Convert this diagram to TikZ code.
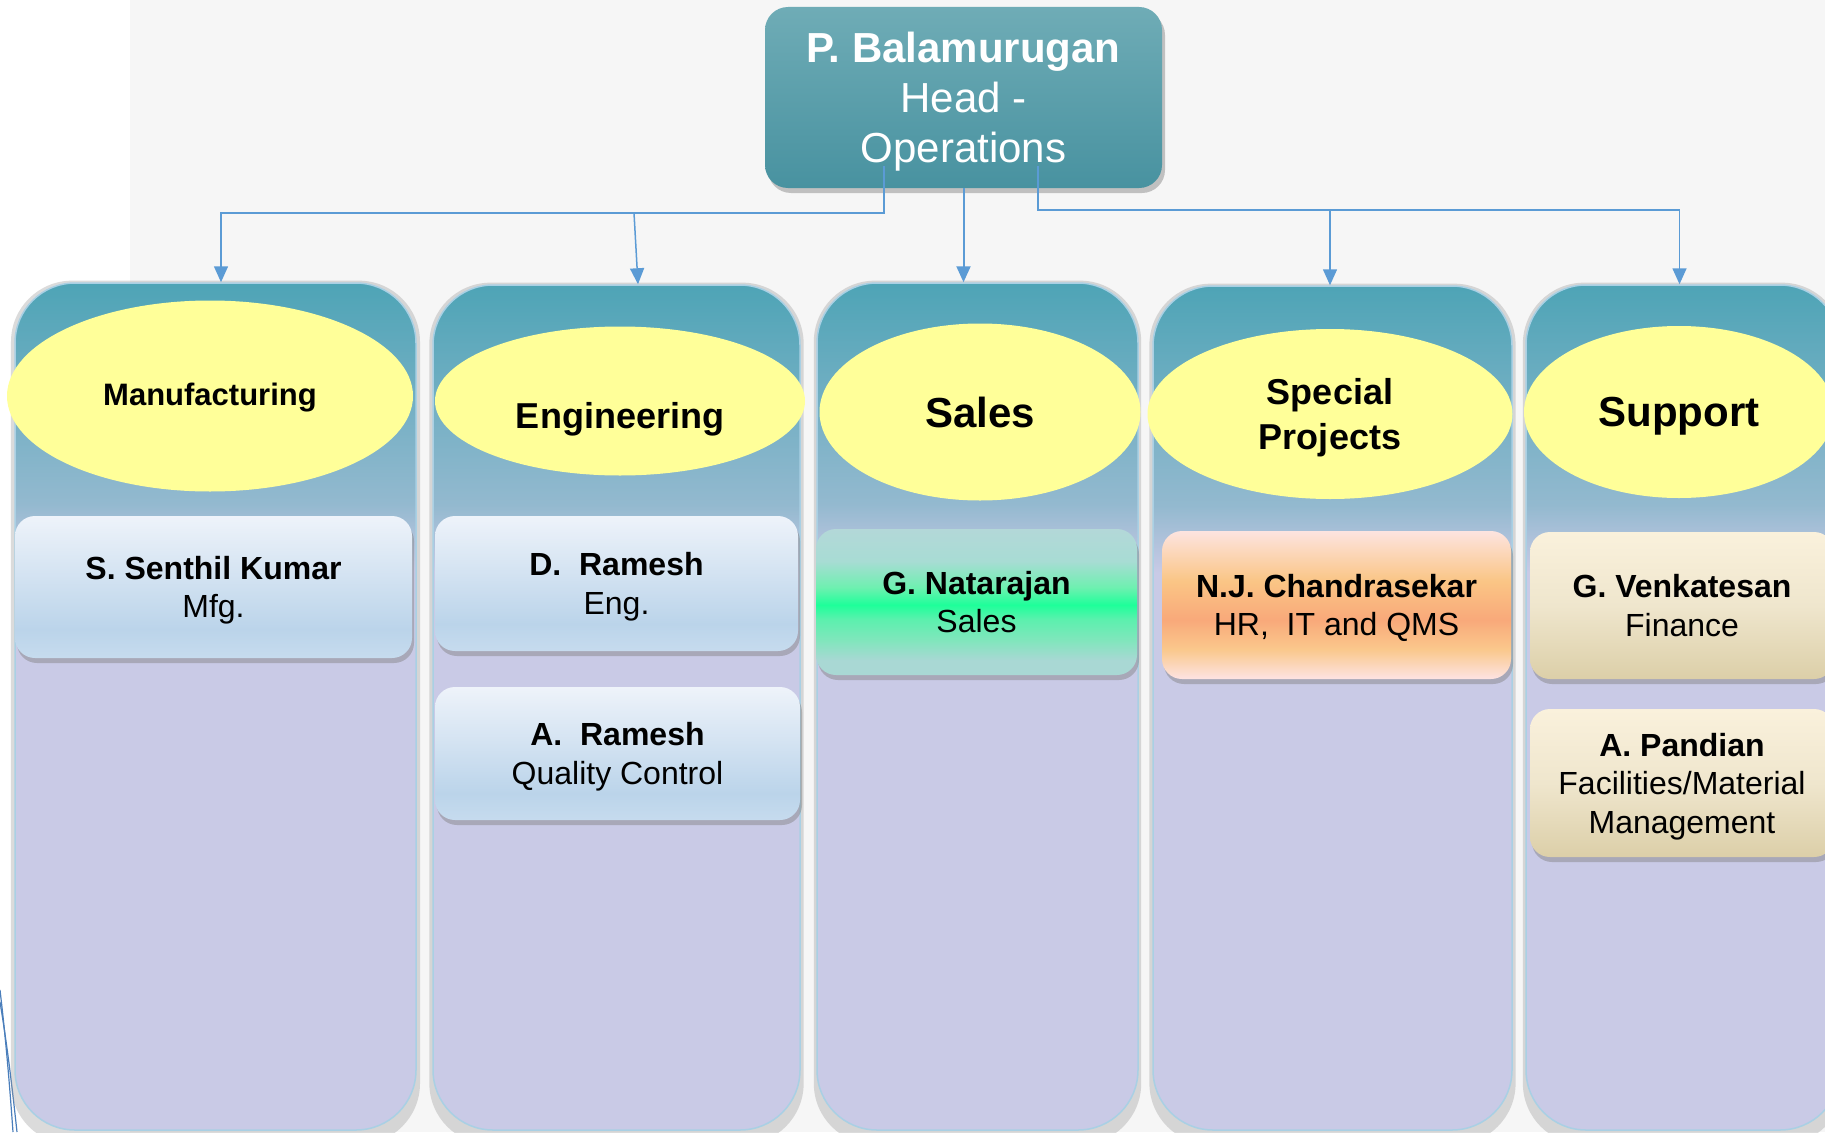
\documentclass[tikz,border=0pt]{standalone}
\usepackage{fontspec}
\setmainfont{Liberation Sans}
\usetikzlibrary{shapes.geometric}
\usetikzlibrary{arrows.meta}
\usetikzlibrary{shadows}

\definecolor{linkblue}{HTML}{5B9BD5}
\definecolor{decoblue}{HTML}{4A7EBB}
\definecolor{backdrop}{HTML}{F6F6F6}
\definecolor{headtop}{HTML}{6FACB6}
\definecolor{headbot}{HTML}{4892A0}
\definecolor{colteal}{HTML}{4EA4B6}
\definecolor{colmid}{HTML}{93B9CF}
\definecolor{collav}{HTML}{C9CAE6}
\definecolor{coledge}{HTML}{A9D0E4}
\definecolor{deptyellow}{HTML}{FFFF99}
\definecolor{bluetop}{HTML}{EEF3FA}
\definecolor{bluemid}{HTML}{BBD4EA}
\definecolor{bluebot}{HTML}{C6DBEE}
\definecolor{greentop}{HTML}{B3D8D8}
\definecolor{greenupper}{HTML}{A8DCD4}
\definecolor{greenhigh}{HTML}{6EF0B0}
\definecolor{greenmid}{HTML}{1EFF9A}
\definecolor{greenlow}{HTML}{5CF0AE}
\definecolor{greenlower}{HTML}{80E6BC}
\definecolor{greenbot}{HTML}{A9D8D4}
\definecolor{ortop}{HTML}{FDE4E0}
\definecolor{orhigh}{HTML}{FAC585}
\definecolor{ormid}{HTML}{F9A97A}
\definecolor{orlow}{HTML}{FAC88C}
\definecolor{orbot}{HTML}{FDE3E3}
\definecolor{creamtop}{HTML}{FAF1DC}
\definecolor{creammid}{HTML}{EFE6CD}
\definecolor{creambot}{HTML}{DCCFA8}

\pgfdeclareverticalshading{colshade}{100bp}{color(0bp)=(collav); color(25bp)=(collav); color(58bp)=(collav); color(62bp)=(colmid); color(75bp)=(colteal); color(100bp)=(colteal)}
\pgfdeclareverticalshading{blueshade}{100bp}{color(0bp)=(bluebot); color(25bp)=(bluebot); color(35bp)=(bluemid); color(75bp)=(bluetop); color(100bp)=(bluetop)}
\pgfdeclareverticalshading{greenshade}{100bp}{color(0bp)=(greenbot); color(25bp)=(greenbot); color(30bp)=(greenbot); color(37bp)=(greenlower); color(44bp)=(greenlow); color(49bp)=(greenmid); color(55bp)=(greenhigh); color(64bp)=(greenupper); color(75bp)=(greentop); color(100bp)=(greentop)}
\pgfdeclareverticalshading{orangeshade}{100bp}{color(0bp)=(orbot); color(25bp)=(orbot); color(35bp)=(orlow); color(45bp)=(ormid); color(58bp)=(orhigh); color(75bp)=(ortop); color(100bp)=(ortop)}
\pgfdeclareverticalshading{creamshade}{100bp}{color(0bp)=(creambot); color(25bp)=(creambot); color(50bp)=(creammid); color(75bp)=(creamtop); color(100bp)=(creamtop)}

\tikzstyle{column} = [rectangle, rounded corners=60pt, draw=coledge, line width=1.5pt, shading=colshade, drop shadow={shadow xshift=0pt, shadow yshift=-6pt, shadow scale=1.02, fill=black!40, opacity=0.35}]
\tikzstyle{dept} = [ellipse, fill=deptyellow, inner sep=0pt, align=center, text depth=0pt]
\tikzstyle{person} = [rectangle, rounded corners=20pt, inner sep=0pt, align=center, text depth=0pt, font={\fontsize{32}{38.5}\selectfont}, drop shadow={shadow xshift=2pt, shadow yshift=-5pt, opacity=0.45}]
\tikzstyle{bluebox} = [person, shading=blueshade]
\tikzstyle{greenbox} = [person, shading=greenshade]
\tikzstyle{orangebox} = [person, shading=orangeshade]
\tikzstyle{creambox} = [person, shading=creamshade]
\tikzstyle{headbox} = [rectangle, rounded corners=23pt, top color=headtop, bottom color=headbot, text=white, align=center, text depth=0pt, font={\fontsize{42}{50}\selectfont}, drop shadow={shadow xshift=3pt, shadow yshift=-5pt, opacity=0.45}]
\tikzstyle{link} = [draw=linkblue, line width=1.5pt]
\tikzstyle{arrow} = [link, -{Triangle[width=14pt,length=16pt]}]
\newcommand{\deptfont}[1]{\bfseries\fontsize{#1}{45}\selectfont}

\begin{document}
\begin{tikzpicture}[x=1pt, y=-1pt]
  \useasboundingbox (0,0) rectangle (1825,1132);

  % Backdrop
  \fill [white] (0,0) rectangle (1825,1132);
  \fill [backdrop] (130,0) rectangle (1825,1132);

  \draw [decoblue, line width=1.2pt] (0,990) .. controls (6,1040) and (10,1090) .. (13,1132);
  \draw [decoblue, line width=1.2pt] (0,1002) .. controls (8,1050) and (13,1095) .. (17,1132);

  % Columns
  \node [column, minimum width=401pt, minimum height=847pt] (colMfg)   at (215.5,706.5) {};
  \node [column, minimum width=367pt, minimum height=845pt] (colEng)   at (616.5,707.5) {};
  \node [column, minimum width=321pt, minimum height=847pt] (colSales) at (977.5,706.5) {};
  \node [column, minimum width=359pt, minimum height=844pt] (colSpec)  at (1332.5,708) {};
  \node [column, minimum width=314pt, minimum height=845pt] (colSup)   at (1683,707.5) {};

  % Departments
  \node [dept, minimum width=406pt, minimum height=191pt, font=\deptfont{31}, text height=18pt] (mfg) at (210,396) {Manufacturing};
  \node [dept, minimum width=370pt, minimum height=149pt, font=\deptfont{36}, text height=54pt] (eng) at (620,401) {Engineering};
  \node [dept, minimum width=321pt, minimum height=177pt, font=\deptfont{42}] (sales) at (980,412)  {Sales};
  \node [dept, minimum width=365pt, minimum height=170pt, font=\deptfont{36}] (spec)  at (1330,414) {Special\\Projects};
  \node [dept, minimum width=310pt, minimum height=172pt, font=\deptfont{42}] (sup)   at (1679,412) {Support};

  % People
  \node [bluebox, minimum width=397pt, minimum height=142pt]   (senthil)   at (213.5,587)   {\textbf{S. Senthil Kumar}\\Mfg.};
  \node [bluebox, minimum width=363pt, minimum height=135pt]   (dramesh)   at (616.5,583.5) {\textbf{D.~ Ramesh}\\Eng.};
  \node [bluebox, minimum width=365pt, minimum height=133pt]   (aramesh)   at (617.5,753.5) {\textbf{A.~ Ramesh}\\Quality Control};
  \node [greenbox, minimum width=321pt, minimum height=146pt]  (natarajan) at (976.5,602)   {\textbf{G. Natarajan}\\Sales};
  \node [orangebox, minimum width=349pt, minimum height=148pt] (chandra)   at (1336.5,605)  {\textbf{N.J. Chandrasekar}\\HR,~ IT and QMS};
  \node [creambox, minimum width=304pt, minimum height=147pt]  (venkat)    at (1682,605.5)  {\textbf{G. Venkatesan}\\Finance};
  \node [creambox, minimum width=304pt, minimum height=148pt]  (pandian)   at (1682,783)    {\textbf{A. Pandian}\\Facilities/Material\\Management};

  % Head
  \node [headbox, minimum width=397pt, minimum height=181pt] (head) at (963.5,97.5) {\textbf{P. Balamurugan}\\Head -\\Operations};

  % Connectors
  \coordinate (hl)    at (884,166);
  \coordinate (busL)  at (884,213);
  \coordinate (jEng)  at (634,213);
  \coordinate (hr)    at (1038,166);
  \coordinate (busR)  at (1038,210);
  \coordinate (jSpec) at (1330,210);

  \draw [arrow] (hl) -- (busL) -| ([xshift=5.5pt]colMfg.north);
  \draw [arrow] (jEng) -- ([xshift=21.5pt]colEng.north);
  \draw [arrow, line width=2pt] (head.south) -- (head.south |- colSales.north);
  \draw [arrow] (hr) -- (busR) -| ([xshift=-3.5pt]colSup.north);
  \draw [arrow] (jSpec) -- ([xshift=-2.5pt]colSpec.north);

\end{tikzpicture}
\end{document}
